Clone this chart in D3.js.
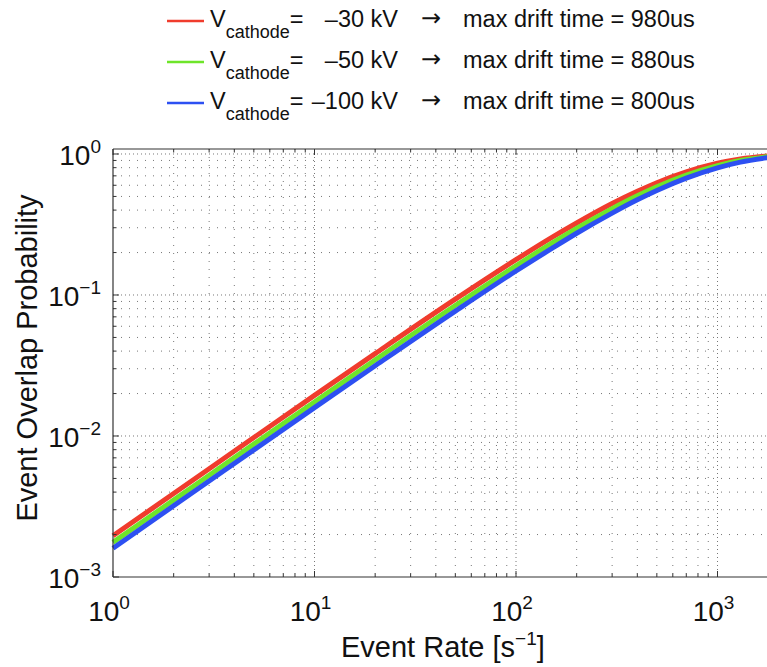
<!DOCTYPE html>
<html><head><meta charset="utf-8">
<script src="https://cdn.jsdelivr.net/npm/d3@7"></script>
<style>
html,body{margin:0;padding:0;background:#fff;}
svg{display:block;font-family:"Liberation Sans",Arial,Helvetica,sans-serif;}
</style></head>
<body><svg id="c" width="767" height="667"></svg>
<script>
// Data
const rates = [1, 2, 5, 10, 20, 50, 100, 150, 200, 300, 400, 500, 700, 1000, 1300, 1800];
const p30kV  = [0.00196, 0.00391, 0.00975, 0.0194, 0.0384, 0.0934, 0.178, 0.255, 0.324, 0.445, 0.543, 0.625, 0.746, 0.859, 0.922, 0.971];
const p50kV  = [0.00176, 0.00351, 0.00876, 0.0174, 0.0346, 0.0842, 0.161, 0.232, 0.297, 0.410, 0.505, 0.585, 0.708, 0.828, 0.899, 0.958];
const p100kV = [0.00160, 0.00320, 0.00797, 0.0159, 0.0315, 0.0769, 0.148, 0.213, 0.274, 0.381, 0.473, 0.551, 0.674, 0.798, 0.875, 0.944];
const seriesNames = ["–30 kV", "–50 kV", "–100 kV"];
const driftTimes = ["980us", "880us", "800us"];
const xTickExps = [0, 1, 2, 3];
const yTickExps = [-3, -2, -1, 0];
const colors = ["#f03c2d", "#6ee52a", "#2d50f2"];

const svg = d3.select("#c");
const L = 113, T = 149, B = 577;
const x = d3.scaleLog().domain([1, 2000]).range([L, L + 201.5 * Math.log10(2000)]);
const y = d3.scaleLog().domain([1e-3, 1.085]).range([B, T]);
const R = x.range()[1];

// grid
const gx = [], gy = [];
for (let e = 0; e < 4; e++) for (let m = 1; m < 10; m++) { const v = m * Math.pow(10, e); if (v <= 2000) gx.push(v); }
for (let e = -3; e < 1; e++) for (let m = 1; m < 10; m++) { const v = m * Math.pow(10, e); if (v <= 1.0001) gy.push(v); }
const isMajor = v => Math.abs(Math.log10(v) - Math.round(Math.log10(v))) < 1e-9;
const grid = svg.append("g");
gx.forEach(v => {
  if (v === 1) return;
  grid.append("line").attr("x1", x(v)).attr("x2", x(v)).attr("y1", T).attr("y2", B)
    .attr("stroke", "#777").attr("stroke-width", 1)
    .attr("stroke-dasharray", isMajor(v) ? "1,3" : "1,7");
});
gy.forEach(v => {
  if (v === 1e-3) return;
  grid.append("line").attr("x1", L).attr("x2", R).attr("y1", y(v)).attr("y2", y(v))
    .attr("stroke", "#777").attr("stroke-width", 1)
    .attr("stroke-dasharray", isMajor(v) ? "1,3" : "1,7");
});

// curves
const line = d3.line().x(d => x(d[0])).y(d => y(d[1])).curve(d3.curveMonotoneX);
[p30kV, p50kV, p100kV].forEach((s, i) => {
  svg.append("path").datum(rates.map((r, j) => [r, s[j]]))
    .attr("d", line).attr("fill", "none").attr("stroke", colors[i])
    .attr("stroke-width", 5).attr("stroke-linejoin", "round");
});

// axes frame
svg.append("line").attr("x1", L).attr("x2", R).attr("y1", B).attr("y2", B).attr("stroke", "#333").attr("stroke-width", 1.2);
svg.append("line").attr("x1", L).attr("x2", R).attr("y1", T).attr("y2", T).attr("stroke", "#333").attr("stroke-width", 1.2);
svg.append("line").attr("x1", L).attr("x2", L).attr("y1", T).attr("y2", B).attr("stroke", "#333").attr("stroke-width", 1.2);

// inward ticks
const tk = svg.append("g");
gx.forEach(v => {
  const len = isMajor(v) ? 6 : 3.5;
  tk.append("line").attr("x1", x(v)).attr("x2", x(v)).attr("y1", B).attr("y2", B - len).attr("stroke", "#333");
  tk.append("line").attr("x1", x(v)).attr("x2", x(v)).attr("y1", T).attr("y2", T + len).attr("stroke", "#333");
});
gy.forEach(v => {
  const len = isMajor(v) ? 6 : 3.5;
  tk.append("line").attr("x1", L).attr("x2", L + len).attr("y1", y(v)).attr("y2", y(v)).attr("stroke", "#333");
});

// tick labels
xTickExps.forEach(e => {
  const t = svg.append("text").attr("x", x(Math.pow(10, e)) - 4).attr("y", 621)
    .attr("text-anchor", "middle").attr("font-size", 28).attr("fill", "#111");
  t.append("tspan").text("10");
  t.append("tspan").attr("dy", -12).attr("font-size", 19).text(e);
});
yTickExps.forEach(e => {
  const t = svg.append("text").attr("x", 101).attr("y", y(Math.pow(10, e)) + 11)
    .attr("text-anchor", "end").attr("font-size", 28).attr("fill", "#111");
  t.append("tspan").text("10");
  t.append("tspan").attr("dy", -12).attr("font-size", 19).text(e < 0 ? "−" + (-e) : e);
});

// axis titles
const xt = svg.append("text").attr("x", 341).attr("y", 657).attr("font-size", 29).attr("fill", "#111");
xt.append("tspan").text("Event Rate [s");
xt.append("tspan").attr("dy", -12).attr("font-size", 19).text("−1");
xt.append("tspan").attr("dy", 12).text("]");
svg.append("text").attr("transform", "translate(37,358) rotate(-90)").attr("text-anchor", "middle")
  .attr("font-size", 29).attr("fill", "#111").text("Event Overlap Probability");

// legend
seriesNames.forEach((n, i) => {
  const ly = 21 + i * 41;
  svg.append("line").attr("x1", 167).attr("x2", 204).attr("y1", ly).attr("y2", ly)
    .attr("stroke", colors[i]).attr("stroke-width", 2.5);
  const t = svg.append("text").attr("x", 210).attr("y", ly + 6).attr("font-size", 23.5).attr("fill", "#111");
  t.append("tspan").text("V");
  t.append("tspan").attr("dy", 11).attr("font-size", 18).text("cathode");
  t.append("tspan").attr("dy", -11).text("=");
  svg.append("text").attr("x", 398).attr("y", ly + 6).attr("text-anchor", "end")
    .attr("font-size", 23.5).attr("fill", "#111").text(n);
  svg.append("text").attr("x", 431).attr("y", ly + 5).attr("text-anchor", "middle")
    .attr("font-size", 24).attr("font-family", "DejaVu Sans").attr("fill", "#111").text("→");
  svg.append("text").attr("x", 463).attr("y", ly + 6)
    .attr("font-size", 23.5).attr("fill", "#111").text("max drift time = " + driftTimes[i]);
});
</script></body></html>
